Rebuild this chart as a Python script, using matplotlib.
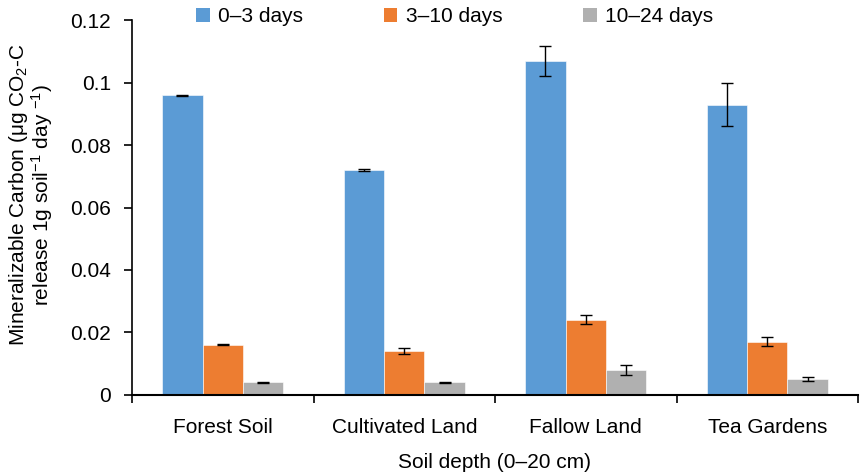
import matplotlib
matplotlib.use("Agg")
import matplotlib.pyplot as plt
import numpy as np
from matplotlib.patches import Patch

plt.rcParams['font.family'] = ['Liberation Sans', 'DejaVu Sans']
plt.rcParams['mathtext.fontset'] = 'custom'
plt.rcParams['mathtext.rm'] = 'Liberation Sans'
plt.rcParams['mathtext.it'] = 'Liberation Sans:italic'

categories = ["Forest Soil", "Cultivated Land", "Fallow Land", "Tea Gardens"]
series_names = ["0\u20133 days", "3\u201310 days", "10\u201324 days"]
vals_0_3 = [0.096, 0.072, 0.107, 0.093]
err_0_3 = [0.0002, 0.0002, 0.0047, 0.0068]
vals_3_10 = [0.016, 0.014, 0.024, 0.017]
err_3_10 = [0.0002, 0.0011, 0.0014, 0.0015]
vals_10_24 = [0.004, 0.004, 0.008, 0.005]
err_10_24 = [0.0002, 0.0002, 0.0016, 0.00075]
colors = ["#5B9BD5", "#ED7D31", "#B0B0B0"]
yticks = [0, 0.02, 0.04, 0.06, 0.08, 0.1, 0.12]
ytick_labels = ["0", "0.02", "0.04", "0.06", "0.08", "0.1", "0.12"]

FS = 15
fig = plt.figure(figsize=(8.6, 4.75), dpi=100)
ax = fig.add_axes([132/860, (475-394.7)/475, (858-132)/860, (394.7-20.3)/475])

x = np.arange(len(categories))
w = 0.222
series = [(vals_0_3, err_0_3), (vals_3_10, err_3_10), (vals_10_24, err_10_24)]
for i, (v, e) in enumerate(series):
    ax.bar(x + (i - 1) * w, v, width=w, color=colors[i], edgecolor='white', linewidth=0.4,
           yerr=e, capsize=4, error_kw=dict(ecolor='black', elinewidth=1, capthick=1), zorder=2)

ax.set_xlim(-0.5, len(categories) - 0.5)
ax.set_ylim(0, 0.12)
ax.set_yticks(yticks)
ax.set_yticklabels(ytick_labels, fontsize=FS)
ax.set_xticks(x)
ax.set_xticklabels(categories, fontsize=FS)
ax.tick_params(axis='x', which='major', length=0, pad=17)
ax.set_xticks(np.arange(-0.5, len(categories)), minor=True)
ax.tick_params(axis='x', which='minor', length=6, width=1.2, direction='out', color='black')
ax.tick_params(axis='y', length=6, width=1.2, direction='out', pad=9)
for s in ['top', 'right']:
    ax.spines[s].set_visible(False)
ax.spines['left'].set_linewidth(1.2)
ax.spines['bottom'].set_linewidth(1.5)

fig.text(495/860, (475-463)/475, "Soil depth (0\u201320 cm)", fontsize=FS, ha='center', va='center')
fig.text(31/860, (475-195)/475,
         "Mineralizable Carbon (\u03bcg CO$_2$-C\nrelease 1g soil$^{-1}$ day $^{-1}$)",
         fontsize=FS, rotation=90, ha='center', va='center', multialignment='center', linespacing=1.0)

handles = [Patch(facecolor=c, edgecolor='none') for c in colors]
fig.legend(handles, series_names, loc='center left', bbox_to_anchor=(196/860, (475-17)/475),
           ncol=3, frameon=False, fontsize=FS, handlelength=0.67, handleheight=0.67,
           handletextpad=0.4, columnspacing=3.85, borderaxespad=0, borderpad=0)

fig.savefig("out.png", dpi=100)
